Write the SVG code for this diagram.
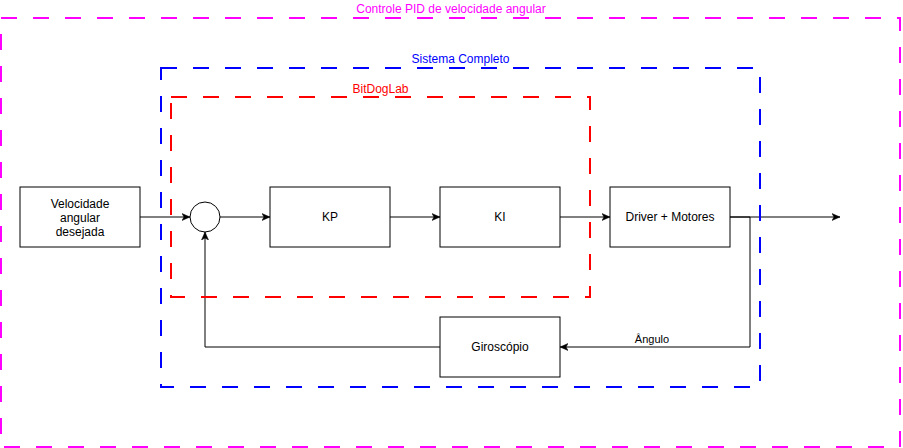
<svg xmlns="http://www.w3.org/2000/svg" width="903" height="448" viewBox="0 0 903 448">
  <style>
    .box { fill: #ffffff; stroke: #000000; stroke-width: 1; }
    .lbl { font-family: "Liberation Sans", Arial, Helvetica, sans-serif; font-size: 12px; fill: #000000; text-anchor: middle; }
    .edge { fill: none; stroke: #000000; stroke-width: 1; }
    .cont { fill: none; stroke-width: 2; stroke-dasharray: 16 16; }
    .ctitle { font-family: "Liberation Sans", Arial, Helvetica, sans-serif; font-size: 12px; text-anchor: middle; }
  </style>
  <defs>
    <marker id="arrow" viewBox="0 0 8 8" markerWidth="8" markerHeight="8" refX="8" refY="4" orient="auto" markerUnits="userSpaceOnUse">
      <path d="M0,0.5 L8,4 L0,7.5 L2,4 Z" fill="#000000" stroke="#000000" stroke-width="0.5"/>
    </marker>
  </defs>
  <rect width="903" height="448" fill="#ffffff"/>

  <g id="connectors">
    <path class="edge" d="M140,217 H190" marker-end="url(#arrow)"/>
    <path class="edge" d="M220,217 H270" marker-end="url(#arrow)"/>
    <path class="edge" d="M390,217 H440" marker-end="url(#arrow)"/>
    <path class="edge" d="M560,217 H610" marker-end="url(#arrow)"/>
    <path class="edge" d="M730,217 H840" marker-end="url(#arrow)"/>
    <path class="edge" d="M730,217 H750 V347 H560" marker-end="url(#arrow)"/>
    <path class="edge" d="M440,347 H205 V232" marker-end="url(#arrow)"/>
    <text class="lbl" x="652" y="343" style="font-size:11px">Ângulo</text>
  </g>

  <g id="node-velocidade">
    <rect class="box" x="20" y="187" width="120" height="60"/>
    <text class="lbl" x="80" y="208">Velocidade</text>
    <text class="lbl" x="80" y="222">angular</text>
    <text class="lbl" x="80" y="236">desejada</text>
  </g>
  <g id="node-somador">
    <circle class="box" cx="205" cy="217" r="15"/>
  </g>
  <g id="node-kp">
    <rect class="box" x="270" y="187" width="120" height="60"/>
    <text class="lbl" x="330" y="221">KP</text>
  </g>
  <g id="node-ki">
    <rect class="box" x="440" y="187" width="120" height="60"/>
    <text class="lbl" x="500" y="221">KI</text>
  </g>
  <g id="node-driver">
    <rect class="box" x="610" y="187" width="120" height="60"/>
    <text class="lbl" x="670" y="221">Driver + Motores</text>
  </g>
  <g id="node-giroscopio">
    <rect class="box" x="440" y="317" width="120" height="60"/>
    <text class="lbl" x="500" y="351">Giroscópio</text>
  </g>

  <g id="container-pid">
    <rect class="cont" x="1" y="18" width="899" height="429" stroke="#FF00FF"/>
    <text class="ctitle" x="451" y="13" fill="#FF00FF">Controle PID de velocidade angular</text>
  </g>
  <g id="container-sistema">
    <rect class="cont" x="161" y="68" width="599" height="319" stroke="#0000FF"/>
    <text class="ctitle" x="460.5" y="63" fill="#0000FF">Sistema Completo</text>
  </g>
  <g id="container-bitdoglab">
    <rect class="cont" x="171" y="97" width="419" height="200" stroke="#FF0000"/>
    <text class="ctitle" x="380.5" y="93" fill="#FF0000">BitDogLab</text>
  </g>
</svg>
